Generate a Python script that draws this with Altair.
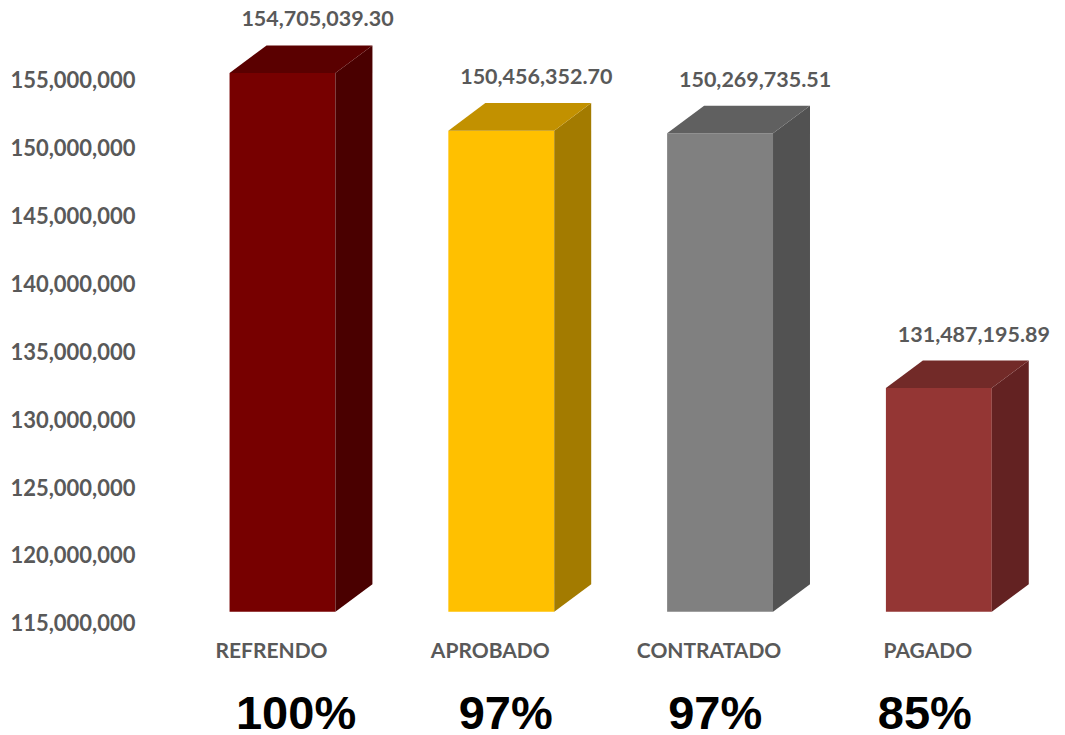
import altair as alt
import pandas as pd

# ---- data ----
categories = ["REFRENDO", "APROBADO", "CONTRATADO", "PAGADO"]
amounts = [154705039.30, 150456352.70, 150269735.51, 131487195.89]
percents = ["100%", "97%", "97%", "85%"]
y_ticks = [115000000, 120000000, 125000000, 130000000, 135000000,
           140000000, 145000000, 150000000, 155000000]

# ---- styles ----
front_colors = ["#770000", "#FFC000", "#808080", "#943634"]
top_colors = ["#5A0000", "#C29100", "#606060", "#722A28"]
side_colors = ["#4A0000", "#A37B00", "#525252", "#632222"]

BASE = 115000000
HALF = 0.242      # half width of the front face (category units)
DX = 0.169        # depth in x (category units)
DY = 2030000      # depth in y (value units)
LABEL_DX = 0.16
PCT_STEP, PCT_OFF = 0.958, 0.062
TOP = 10
W, H = 900, 593.8
FONT = "Lato"
GRAY = "#595959"

idx = list(range(len(categories)))
front = pd.DataFrame({"cat": categories, "i": idx, "v": amounts, "pct": percents})
front["l"] = front["i"] - HALF
front["r"] = front["i"] + HALF
front["base"] = BASE
front["vb"] = front["v"] + DY
front["lx"] = front["i"] + LABEL_DX
front["px"] = front["i"] * PCT_STEP + PCT_OFF

side_rows, top_rows = [], []
for c, i, v in zip(categories, idx, amounts):
    side_rows.append({"cat": c, "x": i + HALF, "t": v, "b": BASE})
    side_rows.append({"cat": c, "x": i + HALF + DX, "t": v + DY, "b": BASE + DY})
    top_rows.append({"cat": c, "y": v, "xl": i - HALF, "xr": i + HALF})
    top_rows.append({"cat": c, "y": v + DY, "xl": i - HALF + DX, "xr": i + HALF + DX})
side = pd.DataFrame(side_rows)
topf = pd.DataFrame(top_rows)

xscale = alt.Scale(domain=[-0.6056, 3.508], nice=False, zero=False)
yscale = alt.Scale(domain=[BASE, BASE + H / 13.57 * 1e6], nice=False, zero=False)

label_expr = "[" + ",".join("'%s'" % c for c in categories) + "][datum.value]"
xaxis = alt.Axis(values=idx, labelExpr=label_expr, title=None, ticks=False, domain=False,
                 grid=False, labelFont=FONT, labelFontSize=21, labelFontWeight="bold",
                 labelColor=GRAY, labelOffset=-11.5, labelPadding=29)
yaxis = alt.Axis(values=y_ticks, format=",.0f", title=None, ticks=False, domain=False,
                 grid=False, labelFont=FONT, labelFontSize=22, labelFontWeight="bold",
                 labelColor=GRAY, labelOffset=12, labelPadding=15)


def X(field):
    return alt.X(field, type="quantitative", scale=xscale, axis=xaxis)


def Y(field):
    return alt.Y(field, type="quantitative", scale=yscale, axis=yaxis)


def col(rng):
    return alt.Color("cat:N", scale=alt.Scale(domain=categories, range=rng), legend=None)


front_layer = alt.Chart(front).mark_rect().encode(
    x=X("l"), x2="r", y=Y("v"), y2="base", color=col(front_colors))

side_layer = alt.Chart(side).mark_area(orient="vertical").encode(
    x=X("x"), y=Y("t"), y2="b", detail="cat:N", color=col(side_colors))

top_layer = alt.Chart(topf).mark_area(orient="horizontal").encode(
    y=Y("y"), x=X("xl"), x2="xr", detail="cat:N", color=col(top_colors))

value_labels = alt.Chart(front).mark_text(
    font=FONT, fontSize=21.5, fontWeight="bold", color=GRAY, dy=-25, baseline="middle"
).encode(x=X("lx"), y=Y("vb"), text=alt.Text("v:Q", format=",.2f"))

pct_labels = alt.Chart(front).mark_text(
    font="Liberation Sans", fontSize=47, fontWeight="bold", color="#000000", baseline="middle"
).encode(x=X("px"), y=alt.value(697), text="pct:N")

chart = alt.layer(front_layer, side_layer, top_layer, value_labels, pct_labels).resolve_scale(
    color="independent"
).properties(
    width=W, height=H,
    autosize=alt.AutoSizeParams(type="none"),
    padding={"left": 142, "top": TOP, "right": 7, "bottom": 123},
).configure_view(stroke=None)

chart.save("out.html", embed_options={"renderer": "svg", "actions": False})
